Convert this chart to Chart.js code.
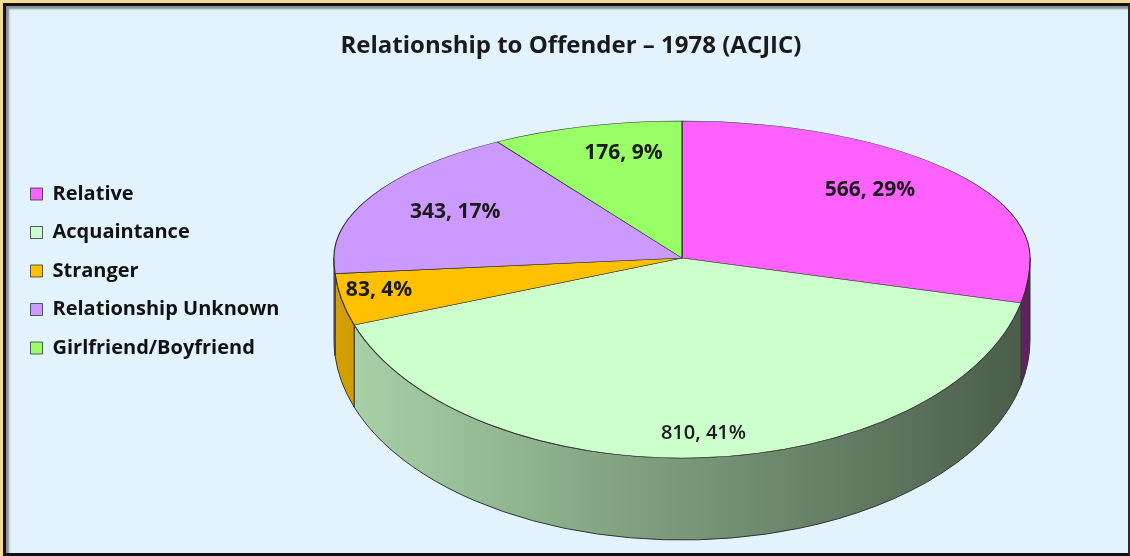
<!DOCTYPE html>
<html>
<head>
<meta charset="utf-8">
<script src="https://cdn.jsdelivr.net/npm/chart.js@4.4.0/dist/chart.umd.min.js"></script>
<style>
  html, body { margin: 0; padding: 0; }
  body { width: 1130px; height: 556px; background: #f2db96; position: relative; overflow: hidden; }
  .frame {
    position: absolute; left: 3px; top: 3px; width: 1127px; height: 553px; box-sizing: border-box;
    background: #e3f3fd;
    border-left: 3px solid #111; border-top: 3px solid #111;
    border-right: 2px solid #2a2a2a; border-bottom: 3px solid #111;
    box-shadow: inset 3px 3px 2px #8a8f94;
  }
  #chart { position: absolute; left: 0; top: 0; }
</style>
</head>
<body>
<div class="frame"></div>
<canvas id="chart" width="1130" height="556"></canvas>
<script>
const categories = ['Relative', 'Acquaintance', 'Stranger', 'Relationship Unknown', 'Girlfriend/Boyfriend'];
const counts = [566, 810, 83, 343, 176];
const percents = [29, 41, 4, 17, 9];
const sliceColors = ['#ff61ff', '#ccffcc', '#ffc000', '#cc99ff', '#99ff66'];

// tilted pie: top face split in two half ellipses (perspective), wall below
const pie3d = {
  id: 'pie3d',
  beforeDatasetsDraw(chart, args, opts) {
    const ctx = chart.ctx;
    const arcs = chart.getDatasetMeta(0).data;
    const x0 = arcs[0].x, y0 = arcs[0].y, R = arcs[0].outerRadius;
    const { cx, cy, rx, ryTop, ryBot, depth } = opts;

    // side wall (front half only)
    const shade = ctx.createLinearGradient(cx - rx, 0, cx + rx, 0);
    shade.addColorStop(0, 'rgba(0,0,0,0.17)');
    shade.addColorStop(1, 'rgba(0,0,0,0.64)');
    arcs.forEach((arc) => {
      const a1 = Math.max(arc.startAngle, 0);
      const a2 = Math.min(arc.endAngle, Math.PI);
      if (a2 <= a1) return;
      const p = new Path2D();
      p.ellipse(cx, cy, rx, ryBot, 0, a1, a2);
      p.lineTo(cx + rx * Math.cos(a2), cy + depth + ryBot * Math.sin(a2));
      p.ellipse(cx, cy + depth, rx, ryBot, 0, a2, a1, true);
      p.closePath();
      ctx.fillStyle = arc.options.backgroundColor;
      ctx.fill(p);
      ctx.fillStyle = shade;
      ctx.fill(p);
      ctx.strokeStyle = '#333';
      ctx.lineWidth = 1;
      ctx.stroke(p);
    });

    // top face
    [[cy - ryTop - 3, cy + 0.5, ryTop], [cy - 0.5, cy + ryBot + 3, ryBot]].forEach(([t, b, ry]) => {
      ctx.save();
      ctx.beginPath();
      ctx.rect(0, t, chart.width, b - t);
      ctx.clip();
      ctx.transform(rx / R, 0, 0, ry / R, cx - x0 * rx / R, cy - y0 * ry / R);
      arcs.forEach(a => a.draw(ctx));
      ctx.restore();
    });
    return false;
  },
  afterDraw(chart, args, opts) {
    const ctx = chart.ctx;
    const arcs = chart.getDatasetMeta(0).data;
    const { cx, cy, rx, ryTop, ryBot, labelPos } = opts;
    ctx.save();
    ctx.fillStyle = '#1a1a1a';
    ctx.textAlign = 'center';
    ctx.textBaseline = 'middle';
    arcs.forEach((arc, i) => {
      const m = (arc.startAngle + arc.endAngle) / 2;
      const s = Math.sin(m);
      const x = cx + rx * labelPos[i][0] * Math.cos(m);
      const y = cy + (s < 0 ? ryTop : ryBot) * labelPos[i][1] * s;
      ctx.font = (i === 1 ? '600 20px' : 'bold 21px') + ' "Open Sans"';
      ctx.fillText(counts[i] + ', ' + percents[i] + '%', x, y);
    });
    ctx.restore();
  }
};

const ctx = document.getElementById('chart').getContext('2d');

new Chart(ctx, {
  type: 'pie',
  data: {
    labels: categories,
    datasets: [{
      data: counts,
      backgroundColor: sliceColors,
      borderColor: '#333',
      borderWidth: 0.8,
    }],
  },
  options: {
    responsive: false,
    animation: false,
    devicePixelRatio: 1,
    events: [],
    layout: { padding: { left: 12, bottom: 14 } },
    plugins: {
      title: {
        display: true,
        text: 'Relationship to Offender – 1978 (ACJIC)',
        color: '#1a1a1a',
        font: { family: 'Open Sans', size: 24, weight: 'bold' },
        padding: { top: 32, bottom: 10 },
      },
      legend: {
        position: 'left',
        align: 'center',
        labels: {
          boxWidth: 12,
          boxHeight: 12,
          padding: 18.5,
          color: '#111',
          font: { family: 'Open Sans', size: 20, weight: 'bold' },
        },
      },
      tooltip: { enabled: false },
      pie3d: {
        cx: 682, cy: 258, rx: 348, ryTop: 137, ryBot: 200, depth: 82,
        labelPos: [[0.69, 0.80], [1.08, 0.88], [0.89, 0.77], [0.73, 0.75], [0.61, 0.80]],
      },
    },
  },
  plugins: [pie3d],
});
</script>
</body>
</html>
